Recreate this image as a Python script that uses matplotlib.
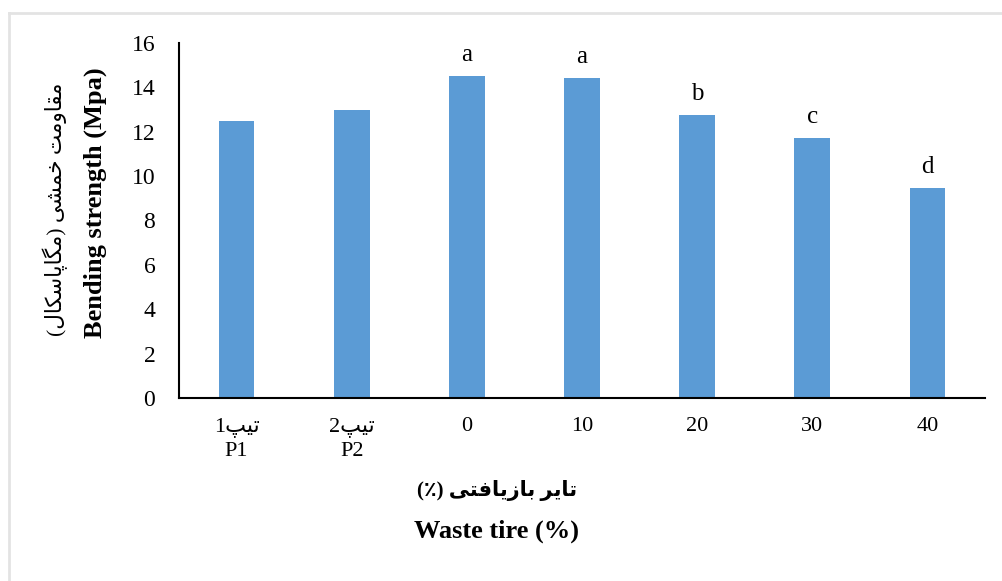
import matplotlib
matplotlib.use('Agg')
import matplotlib.pyplot as plt
from matplotlib.lines import Line2D

# 数据
categories = ['P1', 'P2', '0', '10', '20', '30', '40']
strength = [12.5, 13.0, 14.5, 14.4, 12.75, 11.7, 9.45]
groups = ['', '', 'a', 'a', 'b', 'c', 'd']

# 波斯文字形（孤立、词尾、词首、词中）
FORMS = {
    'م': ('\uFEE1', '\uFEE2', '\uFEE3', '\uFEE4'),
    'ق': ('\uFED5', '\uFED6', '\uFED7', '\uFED8'),
    'ت': ('\uFE95', '\uFE96', '\uFE97', '\uFE98'),
    'خ': ('\uFEA5', '\uFEA6', '\uFEA7', '\uFEA8'),
    'ش': ('\uFEB5', '\uFEB6', '\uFEB7', '\uFEB8'),
    'ی': ('\uFBFC', '\uFBFD', '\uFBFE', '\uFBFF'),
    'گ': ('\uFB92', '\uFB93', '\uFB94', '\uFB95'),
    'پ': ('\uFB56', '\uFB57', '\uFB58', '\uFB59'),
    'س': ('\uFEB1', '\uFEB2', '\uFEB3', '\uFEB4'),
    'ک': ('\uFB8E', '\uFB8F', '\uFB90', '\uFB91'),
    'ل': ('\uFEDD', '\uFEDE', '\uFEDF', '\uFEE0'),
    'ب': ('\uFE8F', '\uFE90', '\uFE91', '\uFE92'),
    'ف': ('\uFED1', '\uFED2', '\uFED3', '\uFED4'),
    'ا': ('\uFE8D', '\uFE8E'),
    'و': ('\uFEED', '\uFEEE'),
    'ز': ('\uFEAF', '\uFEB0'),
    'ر': ('\uFEAD', '\uFEAE'),
}
MIRROR = {'(': ')', ')': '('}


def fa(text):
    """简单的波斯文连写 + 从右到左排列"""
    out = []
    n = len(text)
    for i, ch in enumerate(text):
        if ch not in FORMS:
            out.append(ch)
            continue
        f = FORMS[ch]
        prev_j = i > 0 and text[i - 1] in FORMS and len(FORMS[text[i - 1]]) == 4
        next_j = i < n - 1 and text[i + 1] in FORMS
        if len(f) == 2:
            out.append(f[1] if prev_j else f[0])
        elif prev_j and next_j:
            out.append(f[3])
        elif prev_j:
            out.append(f[1])
        elif next_j:
            out.append(f[2])
        else:
            out.append(f[0])
    # 反转，数字保持原顺序
    runs, cur, cur_digit = [], '', None
    for ch in out:
        d = ch.isdigit()
        if cur and d != cur_digit:
            runs.append(cur)
            cur = ''
        cur += ch
        cur_digit = d
    if cur:
        runs.append(cur)
    vis = ''
    for r in reversed(runs):
        if r[0].isdigit():
            vis += r
        else:
            vis += ''.join(MIRROR.get(c, c) for c in reversed(r))
    return vis


FAM = ['Liberation Serif', 'DejaVu Sans']
plt.rcParams['font.family'] = FAM

tick_labels = [fa('تیپ1') + '\nP1', fa('تیپ2') + '\nP2'] + categories[2:]

fig = plt.figure(figsize=(10.02, 5.81), dpi=100)
ax = fig.add_axes([0.1786, 0.315, 0.8044, 0.611])

x = range(len(categories))
ax.bar(x, strength, width=0.31, color='#5B9BD5')
for i, (v, g) in enumerate(zip(strength, groups)):
    if g:
        ax.text(i, v + 0.7, g, ha='center', va='baseline', fontsize=18)

ax.set_xlim(-0.5, len(categories) - 0.5)
ax.set_ylim(0, 16)
ax.set_yticks(range(0, 17, 2))
ax.set_xticks(list(x))
ax.set_xticklabels(tick_labels, fontsize=16, linespacing=1.35)
ax.tick_params(axis='y', length=0, pad=17, labelsize=17)
ax.tick_params(axis='x', length=0, pad=14)

for s in ['top', 'right']:
    ax.spines[s].set_visible(False)
ax.spines['left'].set_linewidth(1.5)
ax.spines['bottom'].set_linewidth(1.5)

# 坐标轴标题
fig.text(0.055, 0.64, fa('مقاومت خمشی (مگاپاسکال)'), rotation=90,
         ha='center', va='center', fontsize=15.5)
fig.text(0.095, 0.652, 'Bending strength (Mpa)', rotation=90,
         ha='center', va='center', fontsize=19, fontweight='bold')
fig.text(0.496, 0.155, fa('تایر بازیافتی (٪)'), ha='center', va='center',
         fontsize=15, fontweight='bold')
fig.text(0.496, 0.086, 'Waste tire (%)', ha='center', va='center',
         fontsize=19, fontweight='bold')

# 外框（左、上）
fig.add_artist(Line2D([0.009, 1.0], [0.978, 0.978], color='#e3e3e3', linewidth=2))
fig.add_artist(Line2D([0.009, 0.009], [0.0, 0.978], color='#e3e3e3', linewidth=2))

fig.savefig('out.png', dpi=100)
